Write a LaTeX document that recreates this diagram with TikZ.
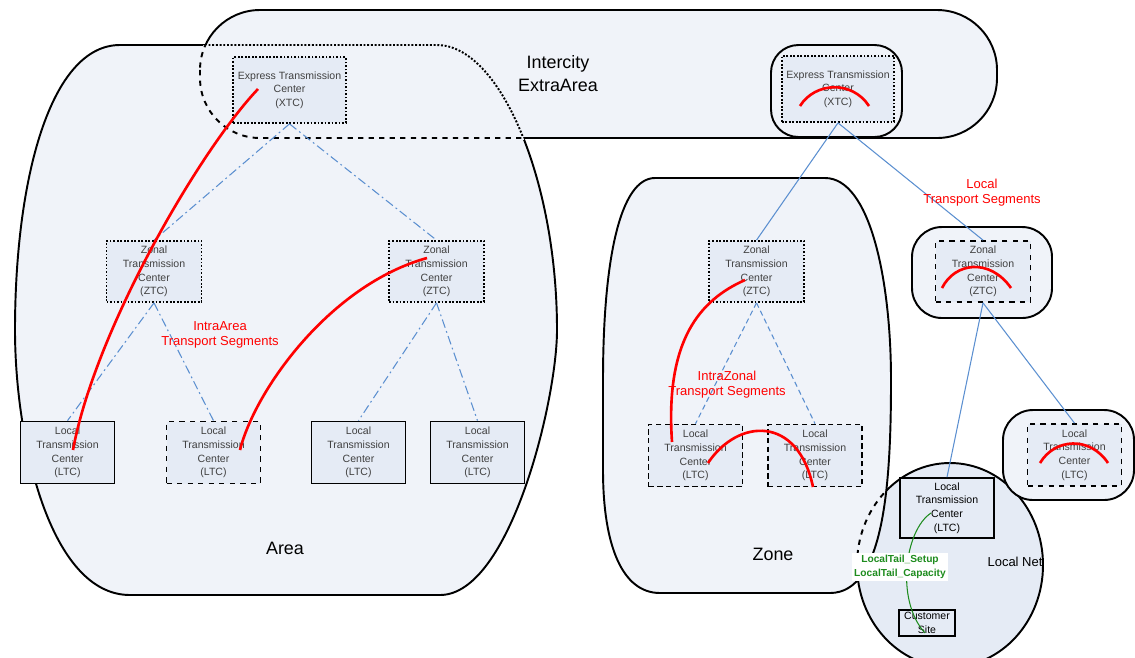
\documentclass[tikz,border=0pt]{standalone}
\usepackage{fontspec}
\setmainfont{Liberation Sans}
\usepackage{xcolor}
\usepackage{tikz}
\usetikzlibrary{calc}

\definecolor{regfill}{HTML}{F0F3F9}
\definecolor{boxfill}{HTML}{E5EBF5}
\definecolor{linkblue}{HTML}{5B8FD0}
\definecolor{tailgreen}{HTML}{1E8C1E}

% outlines of the grouping regions (1 unit = 1 px, y downwards)
\def\areapath{(120,45) -- (437,45) .. controls (500,45) and (557,180) .. (557,330)
  .. controls (557,400) and (510,595) .. (440,595) -- (130,595)
  .. controls (50,595) and (15,440) .. (15,330) .. controls (15,180) and (50,45) .. (120,45) -- cycle}
\def\interpath{[rounded corners=1.2cm] (200,10) rectangle (997,138)}
\def\zonepath{(655,178) -- (825,178) .. controls (870,178) and (891,280) .. (891,380)
  .. controls (891,480) and (885,593) .. (830,593) -- (660,593)
  .. controls (622,593) and (603,545) .. (603,470) -- (603,380)
  .. controls (603,260) and (620,178) .. (655,178) -- cycle}
\def\netpath{(950,565) ellipse [x radius=93, y radius=102]}

\begin{document}
\begin{tikzpicture}[
  x=0.02cm, y=-0.02cm,
  region/.style={draw, fill=regfill, line width=1.1pt},
  ctr/.style={draw, fill=boxfill, line width=1pt, align=center, inner sep=1pt,
              text=black!75, font=\fontsize{6}{7.7}\selectfont},
  xtc/.style={ctr, minimum width=2.25cm, minimum height=1.32cm},
  ztc/.style={ctr, minimum width=1.9cm, minimum height=1.22cm},
  ltc/.style={ctr, minimum width=1.88cm, minimum height=1.24cm},
  link/.style={draw=linkblue, line width=0.6pt},
  arealink/.style={link, dash pattern=on 5pt off 2pt on 1pt off 2pt},
  zonelink/.style={link, dash pattern=on 3pt off 2pt},
  seg/.style={red, line width=1.5pt},
  seglbl/.style={red, align=center, font=\fontsize{7.4}{8.6}\selectfont},
  bigtxt/.style={align=center, font=\fontsize{10.2}{13}\selectfont},
  tail/.style={tailgreen, line width=0.6pt},
  taillbl/.style={fill=white, text=tailgreen, align=center, inner sep=1.2pt,
                  font=\bfseries\fontsize{5.8}{7.8}\selectfont}
]
\useasboundingbox (0,0) rectangle (1135,657);
\clip (0,0) rectangle (1135,657);

% regions
\draw[region] \areapath;
\draw[region] \interpath;
\begin{scope}
  \clip \interpath;
  \draw[line width=1.1pt, densely dotted] \areapath;
\end{scope}
\begin{scope}
  \clip \areapath;
  \draw[regfill, line width=2pt] \interpath;
  \draw[line width=1.1pt, dashed] \interpath;
\end{scope}
\draw[region, fill=boxfill] \netpath;
\draw[region] \zonepath;
\begin{scope}
  \clip \zonepath;
  \draw[line width=1.1pt, dashed] \netpath;
\end{scope}
\draw[region, rounded corners=0.55cm] (771,45) rectangle (902,137);
\draw[region, rounded corners=0.6cm] (912,227) rectangle (1052,318);
\draw[region, rounded corners=0.6cm] (1003,410) rectangle (1134,500);

% centers
\node[xtc, densely dotted] (xtcA) at (289.5,90) {Express Transmission\\Center\\(XTC)};
\node[xtc, densely dotted] (xtcB) at (838,89) {Express Transmission\\Center\\(XTC)};
\node[ztc, densely dotted] (ztcA1) at (154,271.5) {Zonal\\Transmission\\Center\\(ZTC)};
\node[ztc, densely dotted] (ztcA2) at (436.5,271.5) {Zonal\\Transmission\\Center\\(ZTC)};
\node[ltc] (ltcA1) at (67.5,452.5) {Local\\Transmission\\Center\\(LTC)};
\node[ltc, dashed] (ltcA2) at (213.5,452.5) {Local\\Transmission\\Center\\(LTC)};
\node[ltc] (ltcA3) at (358.5,452.5) {Local\\Transmission\\Center\\(LTC)};
\node[ltc] (ltcA4) at (477.5,452.5) {Local\\Transmission\\Center\\(LTC)};
\node[ztc, densely dotted] (ztcZ) at (756.5,271.5) {Zonal\\Transmission\\Center\\(ZTC)};
\node[ltc, densely dashed] (ltcZ1) at (695.5,455.5) {Local\\Transmission\\Center\\(LTC)};
\node[ltc, densely dashed] (ltcZ2) at (815,455.5) {Local\\Transmission\\Center\\(LTC)};
\node[ztc, dashed] (ztcR) at (983,271.5) {Zonal\\Transmission\\Center\\(ZTC)};
\node[ltc, dashed] (ltcR) at (1074.5,455) {Local\\Transmission\\Center\\(LTC)};
\node[ltc, minimum height=1.2cm, text=black] (ltcN) at (947,508) {Local\\Transmission\\Center\\(LTC)};
\node[ctr, text=black, minimum width=1.12cm, minimum height=0.52cm, inner sep=0pt] (cust) at (927,623) {Customer\\Site};

% hierarchy links
\draw[arealink] (xtcA.south) -- (ztcA1.north);
\draw[arealink] (xtcA.south) -- (ztcA2.north);
\draw[arealink] (ztcA1.south) -- (ltcA1.north);
\draw[arealink] (ztcA1.south) -- (ltcA2.north);
\draw[arealink] (ztcA2.south) -- (ltcA3.north);
\draw[arealink] (ztcA2.south) -- (ltcA4.north);
\draw[link] (xtcB.south) -- (ztcZ.north);
\draw[link] (xtcB.south) -- (ztcR.north);
\draw[zonelink] (ztcZ.south) -- (ltcZ1.north);
\draw[zonelink] (ztcZ.south) -- (ltcZ2.north);
\draw[link] (ztcR.south) -- (ltcN.north);
\draw[link] (ztcR.south) -- (ltcR.north);

% transport segments
\draw[seg] ($(xtcA)+(-31.5,-1)$) .. controls (200,150) and (95,330) .. ($(ltcA1)+(5.5,-2.5)$);
\draw[seg] ($(ltcA2)+(26.5,-2.5)$) .. controls (255,390) and (330,285) .. ($(ztcA2)+(-9.5,-13.5)$);
\draw[seg] ($(ztcZ)+(-11.5,8.5)$) .. controls (700,300) and (665,340) .. ($(ltcZ1)+(-23.5,-13.5)$);
\draw[seg] ($(ltcZ1)+(12.5,7.5)$) .. controls (738,418) and (798,415) .. ($(ltcZ2)+(-2,31.5)$);
\draw[seg] ($(xtcB)+(-38,17)$) .. controls (815,82) and (852,80) .. ($(xtcB)+(31,17)$);
\draw[seg] ($(ztcR)+(-41,16.5)$) .. controls (955,262) and (990,258) .. ($(ztcR)+(28,16.5)$);
\draw[seg] ($(ltcR)+(-34.5,8)$) .. controls (1055,438) and (1090,436) .. ($(ltcR)+(33.5,8)$);
\draw[tail] ($(ltcN)+(-16,5)$) .. controls (905,530) and (895,600) .. ($(cust)+(-2,10)$)
  node[taillbl, pos=0.5, xshift=-0.14cm] (taillbl) {LocalTail\_Setup\\LocalTail\_Capacity};

% labels
\node[bigtxt] (intercity) at (558,74) {Intercity\\ExtraArea};
\node[bigtxt] (area) at (285,548) {Area};
\node[bigtxt] (zone) at (773,554) {Zone};
\node[font=\fontsize{7.4}{8.6}\selectfont] (localnet) at (1015,562) {Local Net};
\node[seglbl] (intraarea) at (220,335) {IntraArea\\Transport Segments};
\node[seglbl] (intrazonal) at (727,385) {IntraZonal\\Transport Segments};
\node[seglbl] (localseg) at (982,193) {Local\\Transport Segments};
\end{tikzpicture}
\end{document}
